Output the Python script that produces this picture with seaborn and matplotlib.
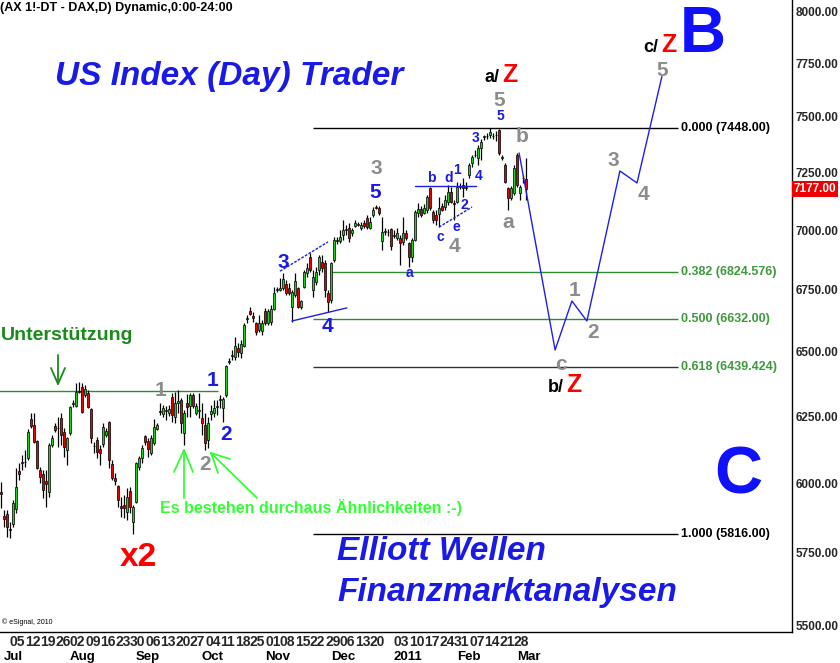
import numpy as np
import pandas as pd
import matplotlib
matplotlib.use("Agg")
import matplotlib.pyplot as plt
import seaborn as sns

# ---------------- data ----------------
holidays = ["2010-12-24", "2010-12-31"]

opens = [5967, 5880, 5887, 5836, 5852, 5906, 6044, 6075, 6079, 6092,
         6239, 6216, 6155, 6048, 6033, 6007, 5967, 6141, 6212, 6203,
         6243, 6190, 6122, 6186, 6298, 6288, 6341, 6362, 6331, 6339,
         6277, 6139, 6159, 6126, 6144, 6178, 6228, 6070, 6018, 5989,
         5916, 5920, 5895, 5971, 5859, 5931, 6059, 6092, 6174, 6155,
         6111, 6148, 6201, 6270, 6258, 6271, 6262, 6323, 6246, 6302,
         6312, 6186, 6300, 6288, 6331, 6262, 6271, 6243, 6216, 6159,
         6258, 6262, 6283, 6310, 6281, 6331, 6461, 6485, 6479, 6515,
         6495, 6523, 6629, 6663, 6643, 6615, 6587, 6583, 6663, 6615,
         6619, 6672, 6751, 6749, 6758, 6774, 6758, 6680, 6729, 6758,
         6680, 6762, 6819, 6887, 6749, 6782, 6832, 6866, 6861, 6737,
         6708, 6874, 6956, 6954, 6979, 7003, 7009, 6988, 7018, 7024,
         7009, 7030, 7052, 7009, 7065, 7101, 7095, 6954, 6994, 6990,
         7005, 6977, 6966, 6966, 6949, 6988, 6945, 6887, 6958, 7073,
         7090, 7073, 7086, 7182, 7078, 7065, 7069, 7103, 7099, 7121,
         7164, 7118, 7121, 7188, 7195, 7184, 7239, 7292, 7326, 7315,
         7359, 7407, 7411, 7418, 7415, 7416, 7440, 7313, 7283, 7182,
         7138, 7160, 7328, 7160, 7224, 7221]
highs = [6004, 5902, 5902, 5859, 5938, 6055, 6074, 6103, 6122, 6201,
         6262, 6262, 6159, 6059, 6048, 6048, 6148, 6178, 6224, 6246,
         6262, 6205, 6171, 6290, 6312, 6377, 6381, 6377, 6370, 6350,
         6281, 6152, 6171, 6141, 6224, 6205, 6231, 6085, 6037, 5993,
         5949, 5956, 5982, 5986, 5920, 6077, 6100, 6141, 6178, 6167,
         6178, 6239, 6224, 6300, 6292, 6289, 6292, 6339, 6343, 6350,
         6319, 6273, 6335, 6339, 6339, 6300, 6339, 6300, 6262, 6246,
         6292, 6312, 6312, 6331, 6323, 6448, 6475, 6507, 6559, 6535,
         6547, 6615, 6647, 6680, 6659, 6619, 6647, 6627, 6676, 6672,
         6688, 6762, 6762, 6798, 6819, 6790, 6778, 6749, 6819, 6762,
         6708, 6832, 6861, 6903, 6832, 6844, 6895, 6895, 6874, 6749,
         6866, 6971, 6971, 7001, 7043, 7022, 7030, 7009, 7043, 7035,
         7035, 7043, 7065, 7056, 7099, 7108, 7103, 7056, 7009, 7005,
         7009, 7001, 7009, 6979, 7056, 7001, 6949, 6966, 7086, 7116,
         7103, 7112, 7151, 7186, 7086, 7086, 7143, 7116, 7151, 7195,
         7186, 7130, 7208, 7204, 7226, 7208, 7292, 7328, 7350, 7373,
         7400, 7418, 7427, 7448, 7427, 7436, 7446, 7328, 7292, 7186,
         7191, 7283, 7337, 7195, 7239, 7315]
lows = [5909, 5841, 5806, 5802, 5841, 5891, 6011, 6048, 6059, 6085,
        6205, 6148, 6051, 6000, 5945, 5913, 5949, 6133, 6190, 6133,
        6141, 6096, 6066, 6180, 6285, 6285, 6339, 6262, 6323, 6281,
        6148, 6111, 6092, 6066, 6133, 6171, 6055, 6011, 5993, 5913,
        5877, 5873, 5866, 5891, 5816, 5927, 6048, 6074, 6141, 6096,
        6103, 6141, 6197, 6254, 6246, 6235, 6250, 6228, 6224, 6262,
        6186, 6141, 6246, 6246, 6281, 6254, 6243, 6178, 6122, 6130,
        6235, 6246, 6254, 6281, 6228, 6323, 6452, 6467, 6467, 6479,
        6475, 6519, 6615, 6647, 6619, 6567, 6579, 6567, 6607, 6607,
        6607, 6667, 6741, 6745, 6749, 6729, 6729, 6619, 6721, 6676,
        6672, 6758, 6803, 6823, 6721, 6770, 6811, 6823, 6721, 6659,
        6696, 6866, 6941, 6945, 6958, 6979, 6949, 6975, 7013, 7018,
        7001, 7009, 7005, 7005, 7056, 7090, 7065, 6916, 6979, 6975,
        6916, 6966, 6958, 6853, 6937, 6958, 6844, 6866, 6954, 7056,
        7056, 7069, 7073, 7086, 7030, 7022, 7013, 7082, 7086, 7108,
        7116, 7043, 7116, 7177, 7143, 7173, 7226, 7274, 7319, 7283,
        7306, 7395, 7400, 7404, 7400, 7391, 7328, 7306, 7204, 7086,
        7130, 7151, 7186, 7130, 7204, 7130]
closes = [5960, 5870, 5841, 5832, 5927, 5986, 6033, 6079, 6077, 6190,
          6212, 6152, 6055, 6022, 5975, 5996, 6141, 6167, 6197, 6206,
          6178, 6133, 6167, 6285, 6302, 6343, 6345, 6266, 6354, 6285,
          6167, 6136, 6115, 6111, 6209, 6193, 6085, 6018, 6007, 5938,
          5911, 5909, 5949, 5913, 5913, 6074, 6092, 6130, 6152, 6126,
          6167, 6209, 6216, 6266, 6281, 6275, 6277, 6254, 6300, 6306,
          6224, 6262, 6285, 6331, 6288, 6288, 6275, 6224, 6148, 6224,
          6270, 6281, 6287, 6314, 6316, 6444, 6465, 6489, 6523, 6499,
          6531, 6607, 6633, 6651, 6635, 6579, 6615, 6615, 6615, 6663,
          6672, 6737, 6755, 6758, 6794, 6737, 6737, 6741, 6786, 6680,
          6704, 6823, 6840, 6832, 6803, 6823, 6887, 6840, 6749, 6700,
          6861, 6958, 6952, 6971, 7001, 6999, 6966, 7001, 7030, 7028,
          7022, 7018, 7013, 7035, 7086, 7097, 7073, 6992, 6998, 6994,
          6933, 6981, 6988, 6945, 6988, 6966, 6887, 6958, 7078, 7090,
          7065, 7095, 7143, 7095, 7043, 7043, 7095, 7086, 7130, 7164,
          7121, 7114, 7186, 7192, 7182, 7188, 7283, 7319, 7330, 7359,
          7386, 7411, 7415, 7431, 7411, 7420, 7337, 7317, 7208, 7138,
          7182, 7270, 7195, 7186, 7228, 7177]
last_price = 7177.00

fib_ratios = ["0.000", "0.382", "0.500", "0.618", "1.000"]
fib_levels = [7448.00, 6824.576, 6632.00, 6439.424, 5816.00]
support_level = 6345

# projected wave path (bar index, price)
proj_idx = [172.7, 184.7, 190.3, 195.3, 206.3, 212.0, 220.3]
proj_price = [7337, 6507, 6704, 6623, 7257, 7204, 7687]

price_ticks = [5500, 5750, 6000, 6250, 6500, 6750, 7000, 7250, 7500, 7750, 8000]
month_labels = ["Jul", "Aug", "Sep", "Oct", "Nov", "Dec", "2011", "Feb", "Mar"]
skip_week_labels = ["2010-12-27"]

# ---------------- figure ----------------
sns.set_theme(style="white")
plt.rcParams["font.family"] = ["Liberation Sans", "DejaVu Sans"]

W, H = 840, 663
fig = plt.figure(figsize=(W / 100, H / 100), dpi=100)
ax = fig.add_axes([0, (H - 632) / H, 792 / W, 632 / H])

dates = pd.bdate_range("2010-06-30", "2011-03-04")
dates = dates[~dates.isin(pd.to_datetime(holidays))]
n = min(len(dates), len(closes))
dates = dates[:n]
idx = np.arange(n)
o = np.array(opens[:n], float)
h = np.array(highs[:n], float)
l = np.array(lows[:n], float)
c = np.array(closes[:n], float)

ax.set_yscale("log")
ax.set_xlim(-1 / 3, 791 / 3)
ax.set_ylim(8000 * np.exp(-(632 - 11) / 1641), 8000 * np.exp(11 / 1641))

# fib retracement
fib_start = [104, 109.7, 104, 104, 104]
fib_line_col = ["black", "#2e8b2e", "#2e8b2e", "#333333", "black"]
fib_txt_col = ["black", "#3c9a3c", "#3c9a3c", "#3c9a3c", "black"]
for r, lev, xs, lc, tc in zip(fib_ratios, fib_levels, fib_start, fib_line_col, fib_txt_col):
    ax.hlines(lev, xs, 225.7, color=lc, lw=1.0, zorder=1)
    val = f"{lev:.3f}" if round(lev, 2) != lev else f"{lev:.2f}"
    ax.text(226.7, lev, f"{r} ({val})", color=tc, fontsize=9, fontweight="bold",
            va="center", ha="left")

# support line
ax.hlines(support_level, -1, 72.3, color="#2e8b2e", lw=1.0, zorder=1)

# candles
up = c >= o
body_lo = np.minimum(o, c)
body_hi = np.maximum(o, c)
body_hi = np.where(body_hi - body_lo < 2, body_lo + 2, body_hi)
ax.vlines(idx, l, h, color="black", lw=0.9, zorder=2)
ax.bar(idx, body_hi - body_lo, bottom=body_lo, width=0.8,
       color=np.where(up, "#1fd11f", "#e60000"), edgecolor="black", lw=0.5, zorder=3)

# analyst trend lines
ax.plot([93, 109], [6827, 6950], color="#2020e0", lw=1.0, ls=(0, (2, 1)), zorder=4)
ax.plot([97, 115.3], [6623, 6676], color="#2020e0", lw=1.0, zorder=4)
ax.plot([138, 158.3], [7190, 7190], color="#2020e0", lw=1.0, zorder=4)
ax.plot([146, 157], [7013, 7099], color="#2020e0", lw=1.0, ls=(0, (2, 1)), zorder=4)

# projected path
proj = pd.DataFrame({"idx": proj_idx, "price": proj_price})
sns.lineplot(data=proj, x="idx", y="price", ax=ax, color="#1e1ef0", lw=1.0, sort=False, zorder=4)
ax.set_xlabel("")
ax.set_ylabel("")

# axes styling
for s in ["top", "left"]:
    ax.spines[s].set_visible(False)
for s in ["right", "bottom"]:
    ax.spines[s].set_color("black")
    ax.spines[s].set_linewidth(1.0)
ax.yaxis.tick_right()
ax.yaxis.set_minor_locator(matplotlib.ticker.NullLocator())
ax.set_yticks(price_ticks)
ax.set_yticklabels([f"{p:.2f}" for p in price_ticks])
ax.tick_params(axis="y", length=0, pad=2.5, labelsize=8.5)
for t in ax.get_yticklabels():
    t.set_fontweight("bold")

weeks = [i for i, d in enumerate(dates)
         if d.dayofweek == 0 and d.strftime("%Y-%m-%d") not in skip_week_labels]
ax.set_xticks(weeks)
ax.set_xticklabels([dates[i].strftime("%d") for i in weeks], ha="left",
                   fontsize=10, fontweight="bold")
ax.tick_params(axis="x", which="major", length=0, pad=2)

months = [i for i in range(1, n) if dates[i].month != dates[i - 1].month]
for i, lab in zip(months, month_labels):
    ax.text(i, -25 / 632, lab, transform=ax.get_xaxis_transform(), ha="left", va="center",
            fontsize=9.5, fontweight="bold", color="black", clip_on=False)

# ---------------- overlay text (pixel coordinates) ----------------
ov = fig.add_axes([0, 0, 1, 1], zorder=5)
ov.set_xlim(0, W)
ov.set_ylim(H, 0)
ov.axis("off")
ov.patch.set_alpha(0)

ov.text(794, 189, f"{last_price:.2f}", color="white", fontsize=8.5, fontweight="bold",
        va="center", ha="left", bbox=dict(facecolor="#ee0000", edgecolor="none", pad=1.2))
ov.text(0, 8, "(AX 1!-DT - DAX,D) Dynamic,0:00-24:00", fontsize=9, fontweight="bold",
        va="center", ha="left", color="black")
ov.text(2, 622, "\u00a9 eSignal, 2010", fontsize=5, va="center", ha="left", color="black")

blue = "#1a1ae6"
grey = "#8c8c8c"
ov.text(55, 77, "US Index (Day) Trader", color=blue, fontsize=24, fontweight="bold",
        style="italic", va="center", ha="left")
ov.text(337, 552, "Elliott Wellen", color=blue, fontsize=24, fontweight="bold",
        style="italic", va="center", ha="left")
ov.text(337, 593, "Finanzmarktanalysen", color=blue, fontsize=24, fontweight="bold",
        style="italic", va="center", ha="left")
ov.text(1, 335, "Unterstützung", color="#1a8a1a", fontsize=14, fontweight="bold",
        va="center", ha="left")
ov.text(160, 508, "Es bestehen durchaus Ähnlichkeiten :-)", color="#33ff33", fontsize=11.5,
        fontweight="bold", va="center", ha="left")
ov.text(703, 35, "B", color="#1010ff", fontsize=46, fontweight="bold", va="center", ha="center")
ov.text(738, 476, "C", color="#1010ff", fontsize=48, fontweight="bold", va="center", ha="center")
ov.text(138, 557, "x2", color="#ff0000", fontsize=24, fontweight="bold", va="center", ha="center")

big_labels = [
    (160, 390, "1", grey), (212, 380, "1", blue), (226, 434, "2", blue), (205, 465, "2", grey),
    (283, 262, "3", blue), (327, 327, "4", blue), (376, 168, "3", grey), (375, 193, "5", blue),
    (454, 247, "4", grey), (499, 100, "5", grey), (522, 136, "b", grey), (508, 222, "a", grey),
    (575, 290, "1", grey), (593, 333, "2", grey), (561, 364, "c", grey), (613, 160, "3", grey),
    (643, 195, "4", grey), (662, 70, "5", grey),
]
for x, y, s, col in big_labels:
    ov.text(x, y, s, color=col, fontsize=15, fontweight="bold", va="center", ha="center")

small_labels = [
    (409, 273, "a"), (440, 237, "c"), (456, 227, "e"), (431, 178, "b"), (449, 178, "d"),
    (457, 170, "1"), (464, 205, "2"), (476, 138, "3"), (479, 176, "4"), (500, 116, "5"),
]
for x, y, s in small_labels:
    ov.text(x, y, s, color=blue, fontsize=10, fontweight="bold", va="center", ha="center")

for x, y, pre in [(492, 77, "a/"), (556, 387, "b/"), (651, 47, "c/")]:
    ov.text(x, y, pre, color="black", fontsize=13, fontweight="bold", va="center", ha="center")
    ov.text(x + 18, y - 2, "Z", color="#ff0000", fontsize=18, fontweight="bold",
            va="center", ha="center")

# arrows
dg = "#1a8a1a"
ov.plot([58, 58], [355, 384], color=dg, lw=1.3)
ov.plot([51, 58, 65], [368, 384, 368], color=dg, lw=1.3)
lg = "#33ff33"
ov.plot([184, 184], [498, 450], color=lg, lw=1.3)
ov.plot([174, 184, 193], [472, 450, 472], color=lg, lw=1.3)
ov.plot([257, 211], [498, 453], color=lg, lw=1.3)
ov.plot([230, 211, 218], [459, 453, 473], color=lg, lw=1.3)

fig.savefig("out.png", dpi=100)
